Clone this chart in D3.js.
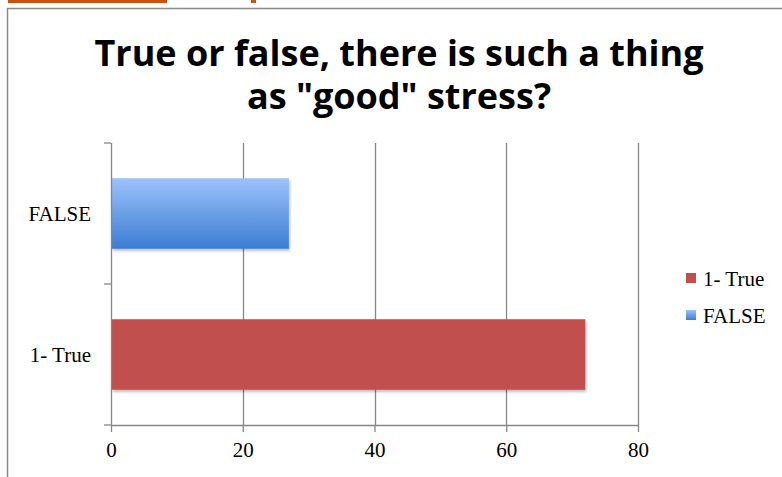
<!DOCTYPE html>
<html>
<head>
<meta charset="utf-8">
<script src="https://cdn.jsdelivr.net/npm/d3@7"></script>
<style>
  html, body { margin: 0; padding: 0; background: #fff; }
  svg { display: block; }
</style>
</head>
<body>
<svg id="chart" width="782" height="477"></svg>
<script>
// Survey answers, drawn as horizontal bars
const categories = ["1- True", "FALSE"];
const values = [72, 27];
const seriesNames = ["1- True", "FALSE"];
const xTicks = [0, 20, 40, 60, 80];
const titleLines = ["True or false, there is such a thing", "as \"good\" stress?"];

const svg = d3.select("#chart");
const W = 782, H = 477;
const margin = { left: 111, right: 144, top: 143, bottom: 52 };
const serif = "'Liberation Serif', 'DejaVu Serif', serif";
const labelSize = 21;

const defs = svg.append("defs");
const blueGrad = defs.append("linearGradient")
  .attr("id", "blueGrad").attr("x1", 0).attr("y1", 0).attr("x2", 0).attr("y2", 1);
blueGrad.append("stop").attr("offset", "0%").attr("stop-color", "#9cc2fb");
blueGrad.append("stop").attr("offset", "100%").attr("stop-color", "#3b7dd3");

const shadow = defs.append("filter").attr("id", "shadow")
  .attr("x", "-5%").attr("y", "-10%").attr("width", "115%").attr("height", "130%");
shadow.append("feDropShadow").attr("dx", 1).attr("dy", 2).attr("stdDeviation", 1.6)
  .attr("flood-color", "#000").attr("flood-opacity", 0.28);

// Page context around the embedded chart
svg.append("rect").attr("x", 8).attr("y", 0).attr("width", 159).attr("height", 3).attr("fill", "#c8520f");
svg.append("rect").attr("x", 251).attr("y", 0).attr("width", 5).attr("height", 3).attr("fill", "#c8520f");

// Chart frame
svg.append("path")
  .attr("d", `M7.5,${H} V8.5 H${W}`)
  .attr("fill", "none").attr("stroke", "#8a8a8a").attr("stroke-width", 1.5);

// Title
const title = svg.append("text")
  .attr("text-anchor", "middle")
  .attr("font-family", "'Open Sans', 'DejaVu Sans', sans-serif")
  .attr("font-weight", "bold")
  .attr("font-size", 36)
  .attr("fill", "#000");
titleLines.forEach((t, i) => {
  title.append("tspan").attr("x", 399).attr("y", 66 + i * 43).text(t);
});

const x = d3.scaleLinear().domain([0, 80]).range([margin.left, W - margin.right]);
const y = d3.scaleBand().domain(categories.slice().reverse())
  .range([margin.top, H - margin.bottom]).paddingInner(0.5).paddingOuter(0.25);
const yOuter = d3.scaleBand().domain(categories.slice().reverse())
  .range([margin.top, H - margin.bottom]);

const gridColor = "#878787";

// Vertical gridlines
svg.append("g").selectAll("line").data(xTicks.slice(1)).join("line")
  .attr("x1", d => Math.round(x(d)) + 0.5).attr("x2", d => Math.round(x(d)) + 0.5)
  .attr("y1", margin.top).attr("y2", H - margin.bottom)
  .attr("stroke", gridColor).attr("stroke-width", 1.3);

// Bars
const fills = { "1- True": "#c0504d", "FALSE": "url(#blueGrad)" };
svg.append("g").selectAll("rect").data(categories.map((c, i) => ({ c, v: values[i] }))).join("rect")
  .attr("x", x(0) + 1)
  .attr("y", d => y(d.c))
  .attr("width", d => x(d.v) - x(0) - 1)
  .attr("height", y.bandwidth())
  .attr("fill", d => fills[d.c])
  .attr("filter", "url(#shadow)");

// X axis
const xAxis = d3.axisBottom(x).tickValues(xTicks).tickSize(7).tickPadding(10).tickSizeOuter(0);
const gx = svg.append("g").attr("transform", `translate(0,${H - margin.bottom})`).call(xAxis);
gx.select(".domain").attr("stroke", gridColor).attr("stroke-width", 1.3);
gx.selectAll(".tick line").attr("stroke", gridColor).attr("stroke-width", 1.3);
gx.selectAll(".tick text")
  .attr("font-family", serif)
  .attr("font-size", labelSize).attr("fill", "#000");

// Y axis
const gy = svg.append("g").attr("transform", `translate(${margin.left},0)`);
gy.append("line").attr("x1", 0.5).attr("x2", 0.5)
  .attr("y1", margin.top).attr("y2", H - margin.bottom)
  .attr("stroke", gridColor).attr("stroke-width", 1.3);
const bounds = [margin.top, ...categories.map(c => yOuter(c) + yOuter.bandwidth())];
gy.selectAll("line.tk").data(bounds).join("line").attr("class", "tk")
  .attr("x1", -7).attr("x2", 0)
  .attr("y1", d => d).attr("y2", d => d)
  .attr("stroke", gridColor).attr("stroke-width", 1.3);
gy.selectAll("text").data(categories).join("text")
  .attr("x", -20)
  .attr("y", d => y(d) + y.bandwidth() / 2)
  .attr("dy", "0.35em")
  .attr("text-anchor", "end")
  .attr("font-family", serif)
  .attr("font-size", labelSize).attr("fill", "#000")
  .text(d => d);

// Legend
const legend = svg.append("g").attr("transform", "translate(686,273)");
seriesNames.forEach((s, i) => {
  const g = legend.append("g").attr("transform", `translate(0,${i * 37})`);
  g.append("rect").attr("width", 10).attr("height", 10).attr("fill", fills[s]);
  g.append("text").attr("x", 17).attr("y", 5).attr("dy", "0.36em")
    .attr("font-family", serif)
    .attr("font-size", labelSize).attr("fill", "#000").text(s);
});
</script>
</body>
</html>
